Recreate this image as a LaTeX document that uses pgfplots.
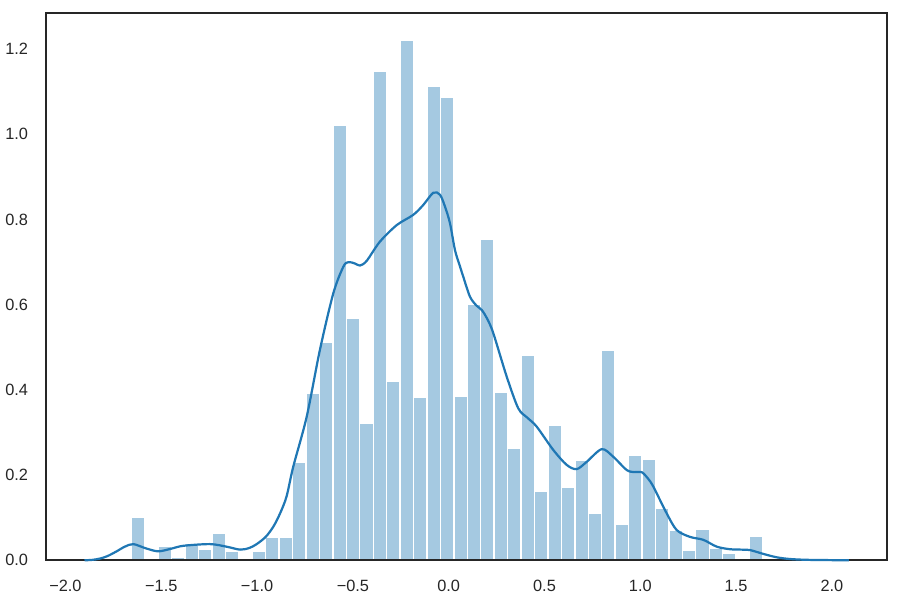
\documentclass[border=0pt]{standalone}
\usepackage{fontspec}
\setmainfont{Liberation Sans}
\usepackage{pgfplots}
\pgfplotsset{compat=1.18}
\usetikzlibrary{calc}
\definecolor{kde}{RGB}{31,119,180}
\definecolor{barc}{RGB}{165,201,225}
\definecolor{spine}{RGB}{38,38,38}
\begin{document}
\begin{tikzpicture}
\begin{axis}[name=ax, scale only axis, width=607.6pt, height=395.4pt,
  set layers, axis on top,
  xmin=-2.100, xmax=2.2876, ymin=0, ymax=1.2845,
  axis line style={spine, line width=1.45pt},
  major tick length=0pt,
  xtick={-2,-1.5,-1,-0.5,0,0.5,1,1.5,2},
  xticklabels={−2.0,−1.5,−1.0,−0.5,0.0,0.5,1.0,1.5,2.0},
  ytick={0,0.2,0.4,0.6,0.8,1.0,1.2},
  yticklabels={0.0,0.2,0.4,0.6,0.8,1.0,1.2},
  tick label style={font=\fontsize{11.8}{14}\selectfont, text=spine},
  xticklabel style={inner sep=0pt, anchor=north, yshift=-14.2pt},
  yticklabel style={inner sep=0pt, anchor=east, xshift=-13pt},
]
\addplot[ybar interval, fill=barc, draw=white, line width=1pt] coordinates {
(-1.6566,0.102) (-1.5865,0) (-1.5163,0.032) (-1.4462,0.006) (-1.3760,0.039)
(-1.3059,0.026) (-1.2357,0.064) (-1.1656,0.020) (-1.0954,0) (-1.0253,0.022)
(-0.9551,0.054) (-0.8850,0.054) (-0.8148,0.231) (-0.7447,0.393) (-0.6745,0.512)
(-0.6044,1.021) (-0.5342,0.569) (-0.4641,0.321) (-0.3939,1.147) (-0.3238,0.421)
(-0.2536,1.222) (-0.1835,0.383) (-0.1133,1.112) (-0.0432,1.087) (0.0270,0.384)
(0.0971,0.602) (0.1673,0.753) (0.2374,0.394) (0.3076,0.264) (0.3777,0.482)
(0.4479,0.163) (0.5180,0.316) (0.5882,0.171) (0.6583,0.234) (0.7285,0.110)
(0.7986,0.493) (0.8688,0.085) (0.9389,0.247) (1.0091,0.236) (1.0792,0.123)
(1.1494,0.070) (1.2195,0.024) (1.2897,0.073) (1.3598,0.028) (1.4300,0.016)
(1.5001,0) (1.5703,0.056) (1.6404,0)
};
\addplot[kde, line width=1.6pt, smooth, tension=0.5, on layer=axis foreground] coordinates {
(-1.9006,0) (-1.860,0.001) (-1.820,0.004) (-1.780,0.010) (-1.733,0.021) (-1.690,0.032) (-1.646,0.038) (-1.580,0.028)
(-1.516,0.021) (-1.450,0.027) (-1.385,0.034) (-1.246,0.038) (-1.160,0.032)
(-1.088,0.025) (-1.040,0.029) (-1.002,0.038) (-0.955,0.055) (-0.915,0.079)
(-0.880,0.110) (-0.846,0.150) (-0.811,0.220) (-0.741,0.337) (-0.672,0.494)
(-0.602,0.627) (-0.550,0.689) (-0.524,0.700) (-0.490,0.697) (-0.463,0.692)
(-0.428,0.703) (-0.359,0.748) (-0.271,0.787) (-0.185,0.811) (-0.133,0.834)
(-0.080,0.863) (-0.045,0.858) (-0.019,0.830) (0.007,0.791) (0.033,0.728)
(0.059,0.690) (0.076,0.666) (0.111,0.619) (0.145,0.598) (0.172,0.588)
(0.200,0.568) (0.233,0.533) (0.303,0.431) (0.363,0.357) (0.410,0.335)
(0.459,0.314) (0.546,0.259) (0.616,0.224) (0.668,0.214) (0.720,0.231)
(0.799,0.261) (0.859,0.243) (0.929,0.212) (0.970,0.207) (1.007,0.207)
(1.040,0.192) (1.068,0.173) (1.138,0.110) (1.190,0.071) (1.259,0.055)
(1.329,0.048) (1.399,0.032) (1.468,0.026) (1.530,0.025) (1.573,0.024)
(1.642,0.015) (1.712,0.007) (1.781,0.003) (1.880,0.001) (2.088,0)
};
\end{axis}
\pgfresetboundingbox
\path[use as bounding box] ($(ax.south west)+(-33.46pt,-28.69pt)$) rectangle ($(ax.north east)+(9.40pt,9.54pt)$);
\end{tikzpicture}
\end{document}
